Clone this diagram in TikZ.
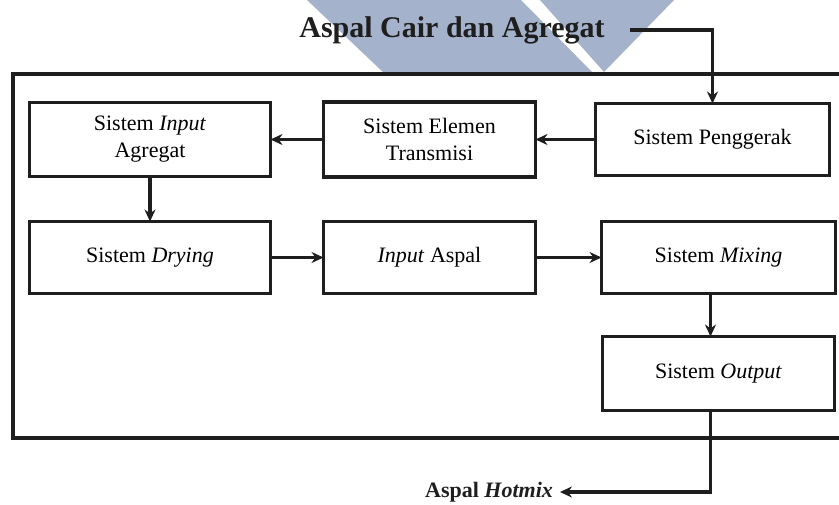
\documentclass[tikz,border=0pt]{standalone}
\usepackage{fontspec}
\setmainfont{Liberation Serif}
\usepackage{xcolor}
\usepackage{tikz}
\usetikzlibrary{arrows.meta, positioning, calc}
\definecolor{wmblue}{RGB}{165,178,203}
\definecolor{inkgray}{RGB}{30,30,30}
\tikzstyle{sysbox} = [rectangle, minimum width=117pt, minimum height=36pt, outer sep=0pt, text centered, align=center, draw=inkgray, line width=1.6pt, fill=white, font=\fontsize{11}{13.5}\selectfont]
\tikzstyle{titletext} = [text=inkgray, font=\fontsize{15}{18}\selectfont\bfseries]
\tikzstyle{hotmixtext} = [text=inkgray, font=\fontsize{11}{13}\selectfont\bfseries]
\tikzstyle{frameline} = [draw=inkgray, line width=1.6pt]
\tikzstyle{arrow} = [draw=inkgray, line width=1.6pt, -{Stealth[length=6pt, width=5.5pt]}]

\begin{document}
\begin{tikzpicture}[x=0.5pt, y=-0.5pt, node distance=21pt and 25pt]
    \useasboundingbox (0,0) rectangle (839,504);
    % watermark behind the title
    \fill[wmblue] (307,0) -- (521,0) -- (594,74) -- (385,74) -- cycle;
    \fill[wmblue] (540,0) -- (674,0) -- (604,72) -- cycle;
    % outer frame (open on the right)
    \draw[frameline] (839,74) -- (13,74) -- (13,438) -- (839,438);

    \node[titletext] (title) at (452,30) {Aspal Cair dan Agregat};
    \node[sysbox, minimum width=120.5pt, minimum height=37pt] (inagg) at (150,139.5) {Sistem \textit{Input}\\Agregat};
    \node[sysbox, minimum width=106pt, minimum height=37.5pt, right=26.5pt of inagg] (trans) {Sistem Elemen\\Transmisi};
    \node[sysbox, right=30pt of trans] (peng) {Sistem Penggerak};
    \node[sysbox, minimum width=120.5pt, below=22.5pt of inagg] (dry) {Sistem \textit{Drying}};
    \node[sysbox, minimum width=106pt, right=26.5pt of dry] (inasp) {\textit{Input} Aspal};
    \node[sysbox, right=33pt of inasp] (mix) {Sistem \textit{Mixing}};
    \node[sysbox, minimum width=116pt, minimum height=37pt, below=21.5pt of mix] (outp) {Sistem \textit{Output}};
    \node[hotmixtext] (hot) at (489,492) {Aspal \textit{Hotmix}};

    \draw[arrow] ([xshift=9pt]title.east) -| (peng.north);
    \draw[arrow] (peng) -- (trans);
    \draw[arrow] (trans) -- (inagg);
    \draw[arrow] (inagg) -- (dry);
    \draw[arrow] (dry) -- (inasp);
    \draw[arrow] (inasp) -- (mix);
    \draw[arrow] ([xshift=-4pt]mix.south) -- ([xshift=-4pt]outp.north);
    \draw[arrow] ([xshift=-4pt]outp.south) |- (hot.east);
\end{tikzpicture}
\end{document}
